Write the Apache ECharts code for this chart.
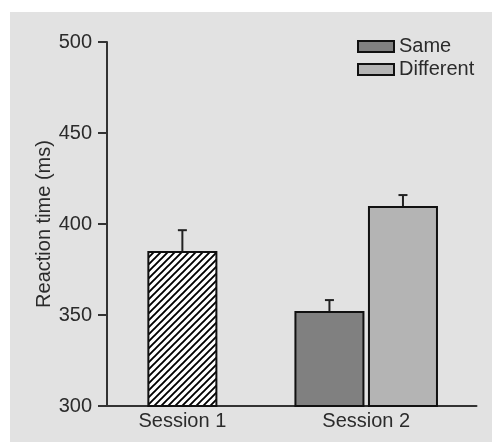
<!DOCTYPE html>
<html>
<head>
<meta charset="utf-8">
<script src="https://cdn.jsdelivr.net/npm/echarts@6/dist/echarts.min.js"></script>
<style>
  html, body { margin: 0; padding: 0; background: #ffffff; }
  #bg { position: absolute; left: 10px; top: 12px; width: 482px; height: 430px; background: #e2e2e2; }
  #chart { position: absolute; left: 0; top: 0; width: 492px; height: 442px; }
</style>
</head>
<body>
<div id="bg"></div>
<div id="chart"></div>
<script>
// ---- data ----
const categories = ['Session 1', 'Session 2'];
const yTicks = [300, 350, 400, 450, 500];
const session1Mean = [384.6];
const session1ErrTop = [396.6];
const sameMean = [351.7];
const sameErrTop = [358.2];
const differentMean = [409.3];
const differentErrTop = [415.9];

// ---- presentation ----
const FONT = '"Liberation Sans", Arial, sans-serif';
const TEXT = '#2b2b2b';
const BAR_HALF = 0.185; // half bar width in x-units
const BASE = yTicks[0];

function hatchPattern() {
  const s = 7;
  const c = document.createElement('canvas');
  c.width = s; c.height = s;
  const g = c.getContext('2d');
  g.fillStyle = '#ffffff';
  g.fillRect(0, 0, s, s);
  g.strokeStyle = '#000000';
  g.lineWidth = 1.9;
  g.beginPath();
  g.moveTo(-1, s + 1); g.lineTo(s + 1, -1);
  g.moveTo(-1, 1); g.lineTo(1, -1);
  g.moveTo(s - 1, s + 1); g.lineTo(s + 1, s - 1);
  g.stroke();
  return { image: c, repeat: 'repeat' };
}

function makeData(catIndex, means, errs, offset) {
  return means.map((m, i) => [catIndex + 1 + offset, m, errs[i]]);
}

function renderBar(fill) {
  return function (params, api) {
    const x = api.value(0), y = api.value(1), e = api.value(2);
    const p0 = api.coord([x - BAR_HALF, BASE]);
    const p1 = api.coord([x + BAR_HALF, y]);
    const pc = api.coord([x, y]);
    const pe = api.coord([x, e]);
    return {
      type: 'group',
      children: [
        { type: 'line', shape: { x1: pc[0], y1: pc[1], x2: pe[0], y2: pe[1] },
          style: { stroke: '#222', lineWidth: 2 } },
        { type: 'line', shape: { x1: pe[0] - 4.5, y1: pe[1], x2: pe[0] + 4.5, y2: pe[1] },
          style: { stroke: '#222', lineWidth: 2 } },
        { type: 'rect',
          shape: { x: p0[0], y: p1[1], width: p1[0] - p0[0], height: p0[1] - p1[1] },
          style: { fill: fill, stroke: '#111', lineWidth: 2 } }
      ]
    };
  };
}

const chart = echarts.init(document.getElementById('chart'), null, { renderer: 'canvas' });
chart.setOption({
  backgroundColor: 'transparent',
  animation: false,
  textStyle: { fontFamily: FONT, color: TEXT },
  grid: { left: 107, right: 15.5, top: 42, bottom: 36 },
  legend: {
    orient: 'vertical',
    left: 357,
    top: 36.5,
    padding: 0,
    itemWidth: 36,
    itemHeight: 11,
    itemGap: 3,
    icon: 'rect',
    textStyle: { fontFamily: FONT, fontSize: 20, color: TEXT },
    data: [
      { name: 'Same', itemStyle: { color: '#808080', borderColor: '#111', borderWidth: 2 } },
      { name: 'Different', itemStyle: { color: '#b4b4b4', borderColor: '#111', borderWidth: 2 } }
    ]
  },
  xAxis: {
    type: 'value',
    min: 0.59,
    max: 2.6,
    splitLine: { show: false },
    axisTick: { show: false },
    axisLine: { lineStyle: { color: '#333', width: 2 } },
    axisLabel: {
      customValues: categories.map((c, i) => i + 1),
      formatter: v => categories[Math.round(v) - 1],
      fontFamily: FONT, fontSize: 20, color: TEXT, margin: 5
    }
  },
  yAxis: {
    type: 'value',
    min: 300,
    max: 500,
    interval: 50,
    splitLine: { show: false },
    axisLine: { show: true, lineStyle: { color: '#333', width: 2 } },
    axisTick: { show: true, length: 9, lineStyle: { color: '#333', width: 2 } },
    axisLabel: { fontFamily: FONT, fontSize: 20, color: TEXT, margin: 15 },
    name: 'Reaction time (ms)',
    nameLocation: 'middle',
    nameGap: 53,
    nameMoveOverlap: false,
    nameTextStyle: { fontFamily: FONT, fontSize: 20, color: TEXT }
  },
  series: [
    { name: 'Session 1', type: 'custom', renderItem: renderBar(hatchPattern()),
      data: makeData(0, session1Mean, session1ErrTop, 0), encode: { x: 0, y: [1, 2] } },
    { name: 'Same', type: 'custom', renderItem: renderBar('#808080'),
      itemStyle: { color: '#808080' },
      data: makeData(1, sameMean, sameErrTop, -0.2), encode: { x: 0, y: [1, 2] } },
    { name: 'Different', type: 'custom', renderItem: renderBar('#b4b4b4'),
      itemStyle: { color: '#b4b4b4' },
      data: makeData(1, differentMean, differentErrTop, 0.2), encode: { x: 0, y: [1, 2] } }
  ]
});
</script>
</body>
</html>
